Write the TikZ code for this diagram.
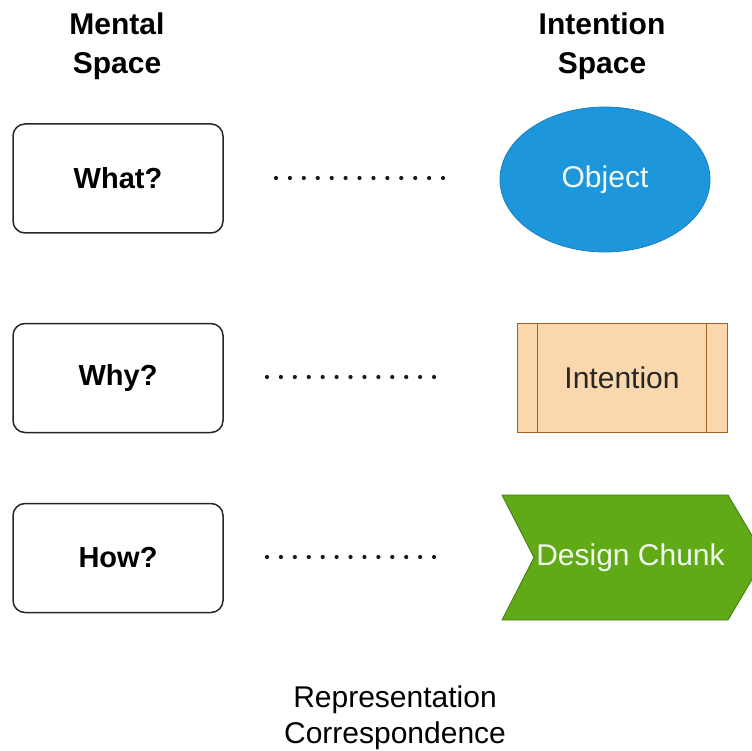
\documentclass[tikz,border=0pt]{standalone}
\usepackage{fontspec}
\setmainfont{Liberation Sans}
\usetikzlibrary{shapes.geometric,calc}

\definecolor{objfill}{HTML}{1E96DC}
\definecolor{objline}{HTML}{1A7FBE}
\definecolor{intfill}{HTML}{FAD7AC}
\definecolor{intline}{HTML}{A0661E}
\definecolor{chunkfill}{HTML}{60A917}
\definecolor{chunkline}{HTML}{3F7A12}
\definecolor{lighttext}{HTML}{F2FAF0}

\tikzset{
  title/.style={font=\fontsize{30}{39}\selectfont\bfseries, align=center, anchor=base},
  question/.style={draw=black!85, line width=1.5pt, rounded corners=12pt,
    minimum width=210pt, minimum height=109pt, inner sep=0pt,
    font=\fontsize{29}{35}\selectfont\bfseries},
  objectshape/.style={ellipse, fill=objfill, draw=objline, line width=0.8pt,
    minimum width=210pt, minimum height=145pt, inner sep=0pt,
    text=lighttext, font=\fontsize{30}{36}\selectfont},
  intentshape/.style={rectangle, fill=intfill, draw=intline, line width=1pt,
    minimum width=210pt, minimum height=109pt, inner sep=0pt,
    text=black!85, font=\fontsize{30}{36}\selectfont},
  chunktext/.style={text=lighttext, font=\fontsize{30}{36}\selectfont, inner sep=0pt},
  dotline/.style={line width=4.2pt, line cap=round, black!90,
    dash pattern=on 0pt off 13.92pt},
  caption/.style={font=\fontsize{30}{36}\selectfont, align=center, anchor=base}
}

\begin{document}
\begin{tikzpicture}[x=1pt,y=-1pt]
  \useasboundingbox (0,0) rectangle (752,751);
  \clip (0,0) rectangle (752,751);

  % column headings (anchored at the baseline of the second line)
  \node[title] (mental) at (117,74) {Mental\\Space};
  \node[title] (intspace) at (602,74) {Intention\\Space};

  % questions of the mental space
  \node[question] (what) at (118,178.5) {What?};
  \node[question] (why)  at (118,378)   {Why?};
  \node[question] (how)  at (118,558)   {How?};

  % object: blue ellipse
  \node[objectshape] (object) at (605,179.5) {Object};

  % intention: process box with two side bars
  \node[intentshape] (intent) at (622,377.5) {Intention};
  \draw[intline, line width=1pt]
    ($(intent.north west)+(21,0)$) -- ($(intent.south west)+(21,0)$)
    ($(intent.north east)+(-21,0)$) -- ($(intent.south east)+(-21,0)$);

  % design chunk: chevron
  \coordinate (cTL) at (502,495);
  \coordinate (cTR) at (728,495);
  \coordinate (cTip) at (765,557.5);
  \coordinate (cBR) at (728,620);
  \coordinate (cBL) at (502,620);
  \coordinate (cNotch) at (534,557.5);
  \draw[fill=chunkfill, draw=chunkline, line width=0.8pt]
    (cTL) -- (cTR) -- (cTip) -- (cBR) -- (cBL) -- (cNotch) -- cycle;
  \node[chunktext] (chunk) at (630.5,557.5) {Design Chunk};

  % dotted correspondences
  \coordinate (d1a) at (276,178);
  \coordinate (d1b) at (443.5,178);
  \coordinate (d2a) at (267,377);
  \coordinate (d2b) at (434.5,377);
  \coordinate (d3a) at (267,557);
  \coordinate (d3b) at (434.5,557);
  \draw[dotline] (d1a) -- (d1b);
  \draw[dotline] (d2a) -- (d2b);
  \draw[dotline] (d3a) -- (d3b);

  % caption (anchored at the baseline of the second line)
  \node[caption] (repr) at (395,743) {Representation\\Correspondence};
\end{tikzpicture}
\end{document}
